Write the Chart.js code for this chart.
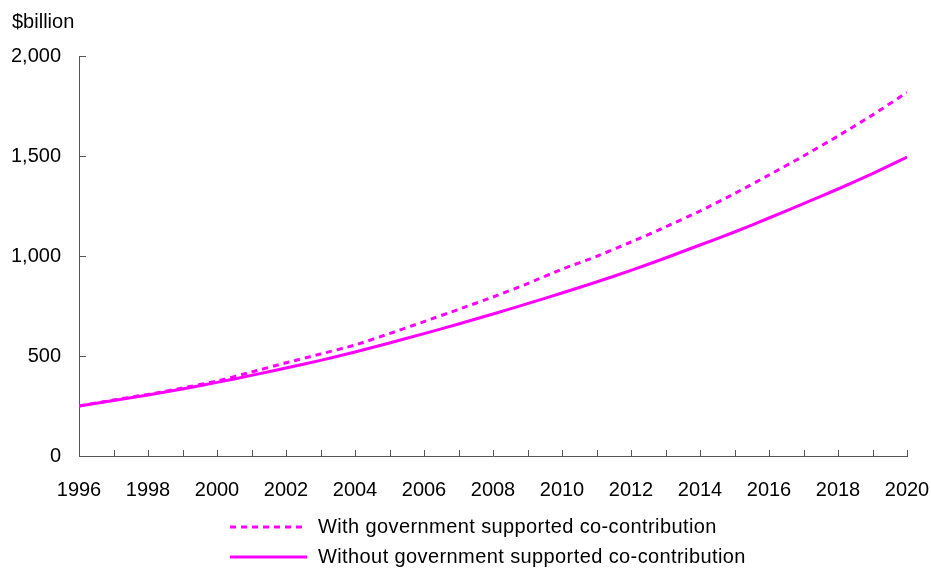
<!DOCTYPE html>
<html>
<head>
<meta charset="utf-8">
<script src="https://cdn.jsdelivr.net/npm/chart.js@4"></script>
<style>
  html, body { margin: 0; padding: 0; background: #fff; }
  canvas { display: block; }
</style>
</head>
<body>
<canvas id="chart" width="931" height="568"></canvas>
<script>
// values, $billion
const years = [1996, 1997, 1998, 1999, 2000, 2001, 2002, 2003, 2004, 2005, 2006, 2007, 2008,
  2009, 2010, 2011, 2012, 2013, 2014, 2015, 2016, 2017, 2018, 2019, 2020];
const withCoContribution = [250, 280, 308, 340, 375, 420, 466, 510, 555, 612, 672, 733, 795,
  862, 934, 998, 1070, 1145, 1225, 1312, 1405, 1500, 1600, 1705, 1818];
const withoutCoContribution = [250, 278, 305, 335, 368, 403, 440, 478, 520, 565, 612, 660, 710,
  762, 815, 870, 928, 990, 1055, 1120, 1190, 1262, 1335, 1412, 1495];
const seriesLabels = ["With government supported co-contribution", "Without government supported co-contribution"];
const yTicks = [0, 500, 1000, 1500, 2000];

const FONT = "'Liberation Sans', Arial, sans-serif";
const MAGENTA = "#ff00ff";
const AXIS = "#555555";

const toPoints = (vals) => vals.map((v, i) => ({ x: years[i], y: v }));

// inward tick marks, "$billion" title and the stacked legend
const extras = {
  id: "extras",
  afterDraw(chart) {
    const { ctx, chartArea, scales } = chart;
    const xs = scales.x, ys = scales.y;
    ctx.save();
    ctx.strokeStyle = AXIS;
    ctx.lineWidth = 1;
    ctx.beginPath();
    years.forEach((yr) => {
      const px = Math.round(xs.getPixelForValue(yr)) + 0.5;
      ctx.moveTo(px, chartArea.bottom);
      ctx.lineTo(px, chartArea.bottom - 6);
    });
    yTicks.forEach((v) => {
      const py = Math.round(ys.getPixelForValue(v)) + 0.5;
      ctx.moveTo(chartArea.left, py);
      ctx.lineTo(chartArea.left + 7, py);
    });
    ctx.stroke();

    ctx.fillStyle = "#000";
    ctx.font = "20px " + FONT;
    ctx.textBaseline = "middle";
    ctx.textAlign = "left";
    ctx.fillText("$billion", 12, 22);

    ctx.letterSpacing = "0.4px";
    chart.data.datasets.forEach((ds, i) => {
      const y = 527 + i * 30;
      ctx.strokeStyle = ds.borderColor;
      ctx.lineWidth = ds.borderWidth;
      ctx.setLineDash(ds.borderDash || []);
      ctx.beginPath();
      ctx.moveTo(230, y);
      ctx.lineTo(307, y);
      ctx.stroke();
      ctx.setLineDash([]);
      ctx.fillStyle = "#000";
      ctx.fillText(ds.label, 318, y);
    });
    ctx.restore();
  }
};

new Chart(document.getElementById("chart"), {
  type: "line",
  data: {
    datasets: [
      {
        label: seriesLabels[0],
        data: toPoints(withCoContribution),
        borderColor: MAGENTA,
        borderWidth: 3,
        borderDash: [6, 5],
        pointRadius: 0,
        tension: 0.2,
        fill: false
      },
      {
        label: seriesLabels[1],
        data: toPoints(withoutCoContribution),
        borderColor: MAGENTA,
        borderWidth: 3,
        pointRadius: 0,
        tension: 0.2,
        fill: false
      }
    ]
  },
  options: {
    responsive: false,
    animation: false,
    layout: { padding: { top: 56, right: 24, bottom: 66, left: 12 } },
    plugins: { legend: { display: false }, tooltip: { enabled: false } },
    scales: {
      x: {
        type: "linear",
        min: 1996,
        max: 2020,
        grid: { display: false, drawTicks: false },
        border: { display: true, color: AXIS, width: 1 },
        afterFit: (scale) => {
          scale.height = 46;
          scale.paddingLeft = 0;
          scale.paddingRight = 0;
        },
        ticks: {
          stepSize: 2,
          padding: 22,
          color: "#000",
          font: { family: FONT, size: 20 },
          maxRotation: 0,
          callback: (v) => String(v)
        }
      },
      y: {
        min: 0,
        max: 2000,
        afterBuildTicks: (scale) => { scale.ticks = yTicks.map((v) => ({ value: v })); },
        afterFit: (scale) => { scale.width = 67; },
        grid: { display: false, drawTicks: false },
        border: { display: true, color: AXIS, width: 1 },
        ticks: {
          padding: 18,
          color: "#000",
          font: { family: FONT, size: 20 },
          callback: (v) => v.toLocaleString("en-US")
        }
      }
    }
  },
  plugins: [extras]
});
</script>
</body>
</html>
